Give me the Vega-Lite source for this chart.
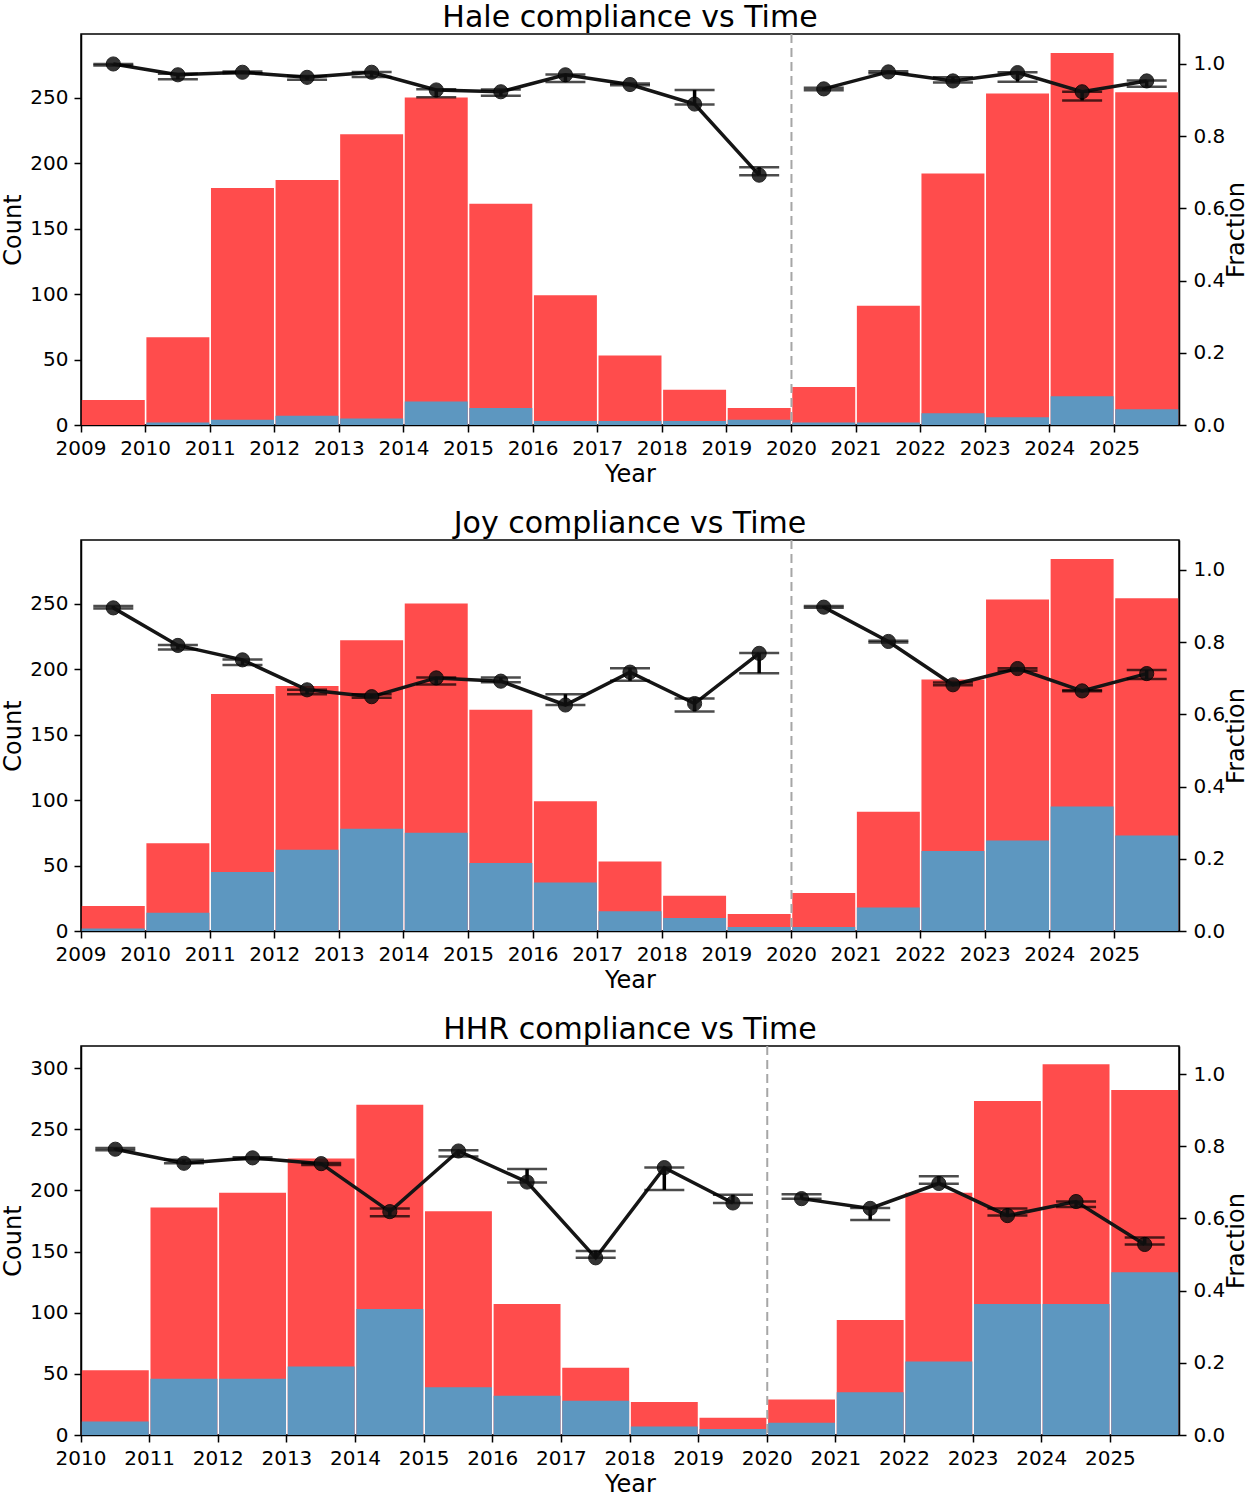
{
  "$schema": "https://vega.github.io/schema/vega-lite/v6.json",
  "padding": {"left": 1, "top": 1, "right": 0, "bottom": 0},
  "config": {
    "font": "DejaVu Sans",
    "view": {"stroke": "black", "strokeWidth": 1.5},
    "title": {"fontSize": 30, "fontWeight": "normal", "color": "black", "offset": 0.5},
    "axis": {
      "labelFontSize": 20, "titleFontSize": 24, "titleFontWeight": "normal",
      "labelColor": "black", "titleColor": "black", "domainColor": "black",
      "tickColor": "black", "tickSize": 7, "tickWidth": 1.5, "domainWidth": 1.5,
      "grid": false, "labelPadding": 6, "titlePadding": 4
    },
    "axisRight": {"titleAngle": 270, "titleBaseline": "top", "titlePadding": 0, "labelPadding": 7}
  },
  "datasets": {
    "hale": [
      {"year": 2009, "total": 19, "compliant": 0, "frac": 1.0, "lo": 0.996, "hi": 1.0, "period": "pre"},
      {"year": 2010, "total": 67, "compliant": 2, "frac": 0.970, "lo": 0.958, "hi": 0.973, "period": "pre"},
      {"year": 2011, "total": 181, "compliant": 4, "frac": 0.977, "lo": 0.974, "hi": 0.979, "period": "pre"},
      {"year": 2012, "total": 187, "compliant": 7, "frac": 0.963, "lo": 0.956, "hi": 0.967, "period": "pre"},
      {"year": 2013, "total": 222, "compliant": 5, "frac": 0.977, "lo": 0.964, "hi": 0.978, "period": "pre"},
      {"year": 2014, "total": 250, "compliant": 18, "frac": 0.928, "lo": 0.908, "hi": 0.930, "period": "pre"},
      {"year": 2015, "total": 169, "compliant": 13, "frac": 0.923, "lo": 0.912, "hi": 0.929, "period": "pre"},
      {"year": 2016, "total": 99, "compliant": 3, "frac": 0.970, "lo": 0.950, "hi": 0.971, "period": "pre"},
      {"year": 2017, "total": 53, "compliant": 3, "frac": 0.943, "lo": 0.941, "hi": 0.946, "period": "pre"},
      {"year": 2018, "total": 27, "compliant": 3, "frac": 0.889, "lo": 0.888, "hi": 0.928, "period": "pre"},
      {"year": 2019, "total": 13, "compliant": 4, "frac": 0.692, "lo": 0.692, "hi": 0.714, "period": "pre"},
      {"year": 2020, "total": 29, "compliant": 2, "frac": 0.931, "lo": 0.927, "hi": 0.934, "period": "post"},
      {"year": 2021, "total": 91, "compliant": 2, "frac": 0.978, "lo": 0.974, "hi": 0.980, "period": "post"},
      {"year": 2022, "total": 192, "compliant": 9, "frac": 0.953, "lo": 0.949, "hi": 0.963, "period": "post"},
      {"year": 2023, "total": 253, "compliant": 6, "frac": 0.976, "lo": 0.951, "hi": 0.977, "period": "post"},
      {"year": 2024, "total": 284, "compliant": 22, "frac": 0.923, "lo": 0.899, "hi": 0.923, "period": "post"},
      {"year": 2025, "total": 254, "compliant": 12, "frac": 0.953, "lo": 0.937, "hi": 0.954, "period": "post"}
    ],
    "joy": [
      {"year": 2009, "total": 19, "compliant": 2, "frac": 0.895, "lo": 0.893, "hi": 0.900, "period": "pre"},
      {"year": 2010, "total": 67, "compliant": 14, "frac": 0.791, "lo": 0.780, "hi": 0.792, "period": "pre"},
      {"year": 2011, "total": 181, "compliant": 45, "frac": 0.751, "lo": 0.737, "hi": 0.752, "period": "pre"},
      {"year": 2012, "total": 187, "compliant": 62, "frac": 0.668, "lo": 0.656, "hi": 0.668, "period": "pre"},
      {"year": 2013, "total": 222, "compliant": 78, "frac": 0.649, "lo": 0.646, "hi": 0.656, "period": "pre"},
      {"year": 2014, "total": 250, "compliant": 75, "frac": 0.701, "lo": 0.683, "hi": 0.702, "period": "pre"},
      {"year": 2015, "total": 169, "compliant": 52, "frac": 0.692, "lo": 0.689, "hi": 0.702, "period": "pre"},
      {"year": 2016, "total": 99, "compliant": 37, "frac": 0.626, "lo": 0.626, "hi": 0.656, "period": "pre"},
      {"year": 2017, "total": 53, "compliant": 15, "frac": 0.717, "lo": 0.693, "hi": 0.728, "period": "pre"},
      {"year": 2018, "total": 27, "compliant": 10, "frac": 0.630, "lo": 0.608, "hi": 0.644, "period": "pre"},
      {"year": 2019, "total": 13, "compliant": 3, "frac": 0.769, "lo": 0.714, "hi": 0.770, "period": "pre"},
      {"year": 2020, "total": 29, "compliant": 3, "frac": 0.897, "lo": 0.895, "hi": 0.900, "period": "post"},
      {"year": 2021, "total": 91, "compliant": 18, "frac": 0.802, "lo": 0.799, "hi": 0.804, "period": "post"},
      {"year": 2022, "total": 192, "compliant": 61, "frac": 0.682, "lo": 0.681, "hi": 0.688, "period": "post"},
      {"year": 2023, "total": 253, "compliant": 69, "frac": 0.727, "lo": 0.721, "hi": 0.728, "period": "post"},
      {"year": 2024, "total": 284, "compliant": 95, "frac": 0.665, "lo": 0.664, "hi": 0.667, "period": "post"},
      {"year": 2025, "total": 254, "compliant": 73, "frac": 0.713, "lo": 0.698, "hi": 0.723, "period": "post"}
    ],
    "hhr": [
      {"year": 2010, "total": 53, "compliant": 11, "frac": 0.792, "lo": 0.789, "hi": 0.795, "period": "pre"},
      {"year": 2011, "total": 186, "compliant": 46, "frac": 0.753, "lo": 0.753, "hi": 0.763, "period": "pre"},
      {"year": 2012, "total": 198, "compliant": 46, "frac": 0.768, "lo": 0.764, "hi": 0.770, "period": "pre"},
      {"year": 2013, "total": 226, "compliant": 56, "frac": 0.752, "lo": 0.748, "hi": 0.754, "period": "pre"},
      {"year": 2014, "total": 270, "compliant": 103, "frac": 0.619, "lo": 0.606, "hi": 0.628, "period": "pre"},
      {"year": 2015, "total": 183, "compliant": 39, "frac": 0.787, "lo": 0.772, "hi": 0.789, "period": "pre"},
      {"year": 2016, "total": 107, "compliant": 32, "frac": 0.701, "lo": 0.700, "hi": 0.737, "period": "pre"},
      {"year": 2017, "total": 55, "compliant": 28, "frac": 0.491, "lo": 0.491, "hi": 0.510, "period": "pre"},
      {"year": 2018, "total": 27, "compliant": 7, "frac": 0.741, "lo": 0.679, "hi": 0.741, "period": "pre"},
      {"year": 2019, "total": 14, "compliant": 5, "frac": 0.643, "lo": 0.643, "hi": 0.666, "period": "pre"},
      {"year": 2020, "total": 29, "compliant": 10, "frac": 0.655, "lo": 0.655, "hi": 0.667, "period": "post"},
      {"year": 2021, "total": 94, "compliant": 35, "frac": 0.628, "lo": 0.596, "hi": 0.629, "period": "post"},
      {"year": 2022, "total": 198, "compliant": 60, "frac": 0.697, "lo": 0.696, "hi": 0.717, "period": "post"},
      {"year": 2023, "total": 273, "compliant": 107, "frac": 0.608, "lo": 0.608, "hi": 0.628, "period": "post"},
      {"year": 2024, "total": 303, "compliant": 107, "frac": 0.647, "lo": 0.632, "hi": 0.647, "period": "post"},
      {"year": 2025, "total": 282, "compliant": 133, "frac": 0.528, "lo": 0.528, "hi": 0.547, "period": "post"}
    ],
    "split": [{"year": 2020}]
  },
  "spacing": 20,
  "vconcat": [
    {
      "title": "Hale compliance vs Time",
      "width": 1098,
      "height": 391,
      "data": {"name": "hale"},
      "encoding": {
        "x": {"field": "year", "type": "ordinal", "scale": {"paddingInner": 0, "paddingOuter": 0},
              "axis": {"title": "Year", "labelAngle": 0, "bandPosition": 0, "labelOffset": -32.3}}
      },
      "layer": [
        {
          "layer": [
            {
              "mark": {"type": "bar", "color": "#ff4c4c", "width": {"band": 0.975}},
              "encoding": {
                "y": {"field": "total", "type": "quantitative", "scale": {"domain": [0, 298.5], "nice": false},
                      "axis": {"title": "Count", "orient": "left", "values": [0, 50, 100, 150, 200, 250]}}
              }
            },
            {
              "mark": {"type": "bar", "color": "#5d97c0", "width": {"band": 0.975}},
              "encoding": {"y": {"field": "compliant", "type": "quantitative"}}
            }
          ]
        },
        {
          "layer": [
            {
              "data": {"name": "split"},
              "mark": {"type": "rule", "color": "#a6a6a6", "strokeDash": [9, 5], "strokeWidth": 2},
              "encoding": {"x": {"field": "year", "type": "ordinal", "bandPosition": 0}}
            },
            {
              "mark": {"type": "line", "color": "#151515", "strokeWidth": 3.5},
              "encoding": {
                "y": {"field": "frac", "type": "quantitative", "scale": {"domain": [0, 1.083], "nice": false},
                      "axis": {"title": "Fraction", "orient": "right", "values": [0, 0.2, 0.4, 0.6, 0.8, 1.0], "format": ".1f"}},
                "detail": {"field": "period"}
              }
            },
            {
              "mark": {"type": "rule", "color": "black", "strokeWidth": 3.5},
              "encoding": {"y": {"field": "lo", "type": "quantitative"}, "y2": {"field": "hi"}}
            },
            {
              "mark": {"type": "tick", "color": "black", "size": 40, "thickness": 2.5},
              "encoding": {"y": {"field": "lo", "type": "quantitative"}}
            },
            {
              "mark": {"type": "tick", "color": "black", "size": 40, "thickness": 2.5},
              "encoding": {"y": {"field": "hi", "type": "quantitative"}}
            },
            {
              "mark": {"type": "point", "filled": true, "color": "#111111", "size": 200, "opacity": 0.85, "stroke": "#000000", "strokeWidth": 1},
              "encoding": {"y": {"field": "frac", "type": "quantitative"}}
            }
          ]
        }
      ],
      "resolve": {"scale": {"y": "independent"}}
    },
    {
      "title": "Joy compliance vs Time",
      "width": 1098,
      "height": 391,
      "data": {"name": "joy"},
      "encoding": {
        "x": {"field": "year", "type": "ordinal", "scale": {"paddingInner": 0, "paddingOuter": 0},
              "axis": {"title": "Year", "labelAngle": 0, "bandPosition": 0, "labelOffset": -32.3}}
      },
      "layer": [
        {
          "layer": [
            {
              "mark": {"type": "bar", "color": "#ff4c4c", "width": {"band": 0.975}},
              "encoding": {
                "y": {"field": "total", "type": "quantitative", "scale": {"domain": [0, 298.5], "nice": false},
                      "axis": {"title": "Count", "orient": "left", "values": [0, 50, 100, 150, 200, 250]}}
              }
            },
            {
              "mark": {"type": "bar", "color": "#5d97c0", "width": {"band": 0.975}},
              "encoding": {"y": {"field": "compliant", "type": "quantitative"}}
            }
          ]
        },
        {
          "layer": [
            {
              "data": {"name": "split"},
              "mark": {"type": "rule", "color": "#a6a6a6", "strokeDash": [9, 5], "strokeWidth": 2},
              "encoding": {"x": {"field": "year", "type": "ordinal", "bandPosition": 0}}
            },
            {
              "mark": {"type": "line", "color": "#151515", "strokeWidth": 3.5},
              "encoding": {
                "y": {"field": "frac", "type": "quantitative", "scale": {"domain": [0, 1.083], "nice": false},
                      "axis": {"title": "Fraction", "orient": "right", "values": [0, 0.2, 0.4, 0.6, 0.8, 1.0], "format": ".1f"}},
                "detail": {"field": "period"}
              }
            },
            {
              "mark": {"type": "rule", "color": "black", "strokeWidth": 3.5},
              "encoding": {"y": {"field": "lo", "type": "quantitative"}, "y2": {"field": "hi"}}
            },
            {
              "mark": {"type": "tick", "color": "black", "size": 40, "thickness": 2.5},
              "encoding": {"y": {"field": "lo", "type": "quantitative"}}
            },
            {
              "mark": {"type": "tick", "color": "black", "size": 40, "thickness": 2.5},
              "encoding": {"y": {"field": "hi", "type": "quantitative"}}
            },
            {
              "mark": {"type": "point", "filled": true, "color": "#111111", "size": 200, "opacity": 0.85, "stroke": "#000000", "strokeWidth": 1},
              "encoding": {"y": {"field": "frac", "type": "quantitative"}}
            }
          ]
        }
      ],
      "resolve": {"scale": {"y": "independent"}}
    },
    {
      "title": "HHR compliance vs Time",
      "width": 1098,
      "height": 389,
      "data": {"name": "hhr"},
      "encoding": {
        "x": {"field": "year", "type": "ordinal", "scale": {"paddingInner": 0, "paddingOuter": 0},
              "axis": {"title": "Year", "labelAngle": 0, "bandPosition": 0, "labelOffset": -34.3}}
      },
      "layer": [
        {
          "layer": [
            {
              "mark": {"type": "bar", "color": "#ff4c4c", "width": {"band": 0.975}},
              "encoding": {
                "y": {"field": "total", "type": "quantitative", "scale": {"domain": [0, 318], "nice": false},
                      "axis": {"title": "Count", "orient": "left", "values": [0, 50, 100, 150, 200, 250, 300]}}
              }
            },
            {
              "mark": {"type": "bar", "color": "#5d97c0", "width": {"band": 0.975}},
              "encoding": {"y": {"field": "compliant", "type": "quantitative"}}
            }
          ]
        },
        {
          "layer": [
            {
              "data": {"name": "split"},
              "mark": {"type": "rule", "color": "#a6a6a6", "strokeDash": [9, 5], "strokeWidth": 2},
              "encoding": {"x": {"field": "year", "type": "ordinal", "bandPosition": 0}}
            },
            {
              "mark": {"type": "line", "color": "#151515", "strokeWidth": 3.5},
              "encoding": {
                "y": {"field": "frac", "type": "quantitative", "scale": {"domain": [0, 1.078], "nice": false},
                      "axis": {"title": "Fraction", "orient": "right", "values": [0, 0.2, 0.4, 0.6, 0.8, 1.0], "format": ".1f"}},
                "detail": {"field": "period"}
              }
            },
            {
              "mark": {"type": "rule", "color": "black", "strokeWidth": 3.5},
              "encoding": {"y": {"field": "lo", "type": "quantitative"}, "y2": {"field": "hi"}}
            },
            {
              "mark": {"type": "tick", "color": "black", "size": 40, "thickness": 2.5},
              "encoding": {"y": {"field": "lo", "type": "quantitative"}}
            },
            {
              "mark": {"type": "tick", "color": "black", "size": 40, "thickness": 2.5},
              "encoding": {"y": {"field": "hi", "type": "quantitative"}}
            },
            {
              "mark": {"type": "point", "filled": true, "color": "#111111", "size": 200, "opacity": 0.85, "stroke": "#000000", "strokeWidth": 1},
              "encoding": {"y": {"field": "frac", "type": "quantitative"}}
            }
          ]
        }
      ],
      "resolve": {"scale": {"y": "independent"}}
    }
  ]
}
